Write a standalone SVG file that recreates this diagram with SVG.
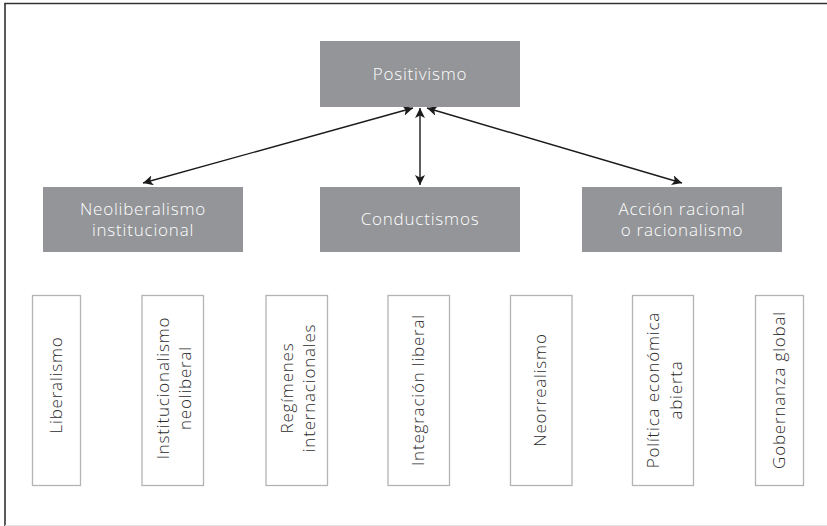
<svg xmlns="http://www.w3.org/2000/svg" width="827" height="526" viewBox="0 0 827 526">
  <defs>
    <marker id="head" viewBox="0 0 10 10" refX="10" refY="5" markerWidth="10" markerHeight="10" markerUnits="userSpaceOnUse" orient="auto-start-reverse">
      <path d="M0,0 L10,5 L0,10 L2.5,5 Z" fill="#1a1a1a"/>
    </marker>
  </defs>
  <style>
    .hub { fill: #939598; }
    .hub-text { fill: #ffffff; font-family: "Open Sans", Lato, "Liberation Sans", sans-serif; font-weight: 300; font-size: 17px; letter-spacing: 0.8px; text-anchor: middle; }
    .leaf { fill: #ffffff; stroke: #b3b3b3; stroke-width: 1.3; }
    .leaf-text { fill: #2b2b2b; font-family: "Open Sans", Lato, "Liberation Sans", sans-serif; font-weight: 300; font-size: 17px; letter-spacing: 0.8px; text-anchor: middle; }
    .link { stroke: #1a1a1a; stroke-width: 1.4; fill: none; }
  </style>

  <rect x="0" y="0" width="827" height="526" fill="#ffffff"/>
  <!-- frame -->
  <line x1="4.5" y1="3.5" x2="827" y2="3.5" stroke="#333" stroke-width="1.6"/>
  <line x1="5" y1="3" x2="5" y2="526" stroke="#333" stroke-width="1.6"/>
  <line x1="5" y1="525.5" x2="827" y2="525.5" stroke="#e6e6e6" stroke-width="1"/>

  <g id="connectors">
    <line class="link" x1="413" y1="108" x2="143" y2="183" marker-start="url(#head)" marker-end="url(#head)"/>
    <line class="link" x1="420" y1="108" x2="420" y2="185" marker-start="url(#head)" marker-end="url(#head)"/>
    <line class="link" x1="427" y1="108" x2="682" y2="183" marker-start="url(#head)" marker-end="url(#head)"/>
  </g>

  <g id="positivismo">
    <rect class="hub" x="320" y="41" width="200" height="66"/>
    <text class="hub-text" x="420" y="80">Positivismo</text>
  </g>
  <g id="neoliberalismo-institucional">
    <rect class="hub" x="43" y="187" width="200" height="65"/>
    <text class="hub-text" x="143" y="215">Neoliberalismo</text>
    <text class="hub-text" x="143" y="236">institucional</text>
  </g>
  <g id="conductismos">
    <rect class="hub" x="320" y="187" width="200" height="65"/>
    <text class="hub-text" x="420" y="225">Conductismos</text>
  </g>
  <g id="accion-racional">
    <rect class="hub" x="582" y="187" width="200" height="65"/>
    <text class="hub-text" x="682" y="215">Acción racional</text>
    <text class="hub-text" x="682" y="236">o racionalismo</text>
  </g>

  <g id="liberalismo">
    <rect class="leaf" x="32.5" y="295.5" width="48" height="190"/>
    <text class="leaf-text" transform="translate(62,385) rotate(-90)">Liberalismo</text>
  </g>
  <g id="institucionalismo-neoliberal">
    <rect class="leaf" x="142" y="295.5" width="61.5" height="190"/>
    <text class="leaf-text" transform="translate(169,388) rotate(-90)">Institucionalismo</text>
    <text class="leaf-text" transform="translate(191,388) rotate(-90)">neoliberal</text>
  </g>
  <g id="regimenes-internacionales">
    <rect class="leaf" x="266" y="295.5" width="61.5" height="190"/>
    <text class="leaf-text" transform="translate(293,388) rotate(-90)">Regímenes</text>
    <text class="leaf-text" transform="translate(315,388) rotate(-90)">internacionales</text>
  </g>
  <g id="integracion-liberal">
    <rect class="leaf" x="388" y="295.5" width="61.5" height="190"/>
    <text class="leaf-text" transform="translate(424,390) rotate(-90)">Integración liberal</text>
  </g>
  <g id="neorrealismo">
    <rect class="leaf" x="510.5" y="295.5" width="61.5" height="190"/>
    <text class="leaf-text" transform="translate(546,390) rotate(-90)">Neorrealismo</text>
  </g>
  <g id="politica-economica-abierta">
    <rect class="leaf" x="632.5" y="295.5" width="61" height="190"/>
    <text class="leaf-text" transform="translate(659,390) rotate(-90)">Política económica</text>
    <text class="leaf-text" transform="translate(682,390) rotate(-90)">abierta</text>
  </g>
  <g id="gobernanza-global">
    <rect class="leaf" x="755.5" y="295.5" width="48" height="190"/>
    <text class="leaf-text" transform="translate(785,390) rotate(-90)">Gobernanza global</text>
  </g>
</svg>
